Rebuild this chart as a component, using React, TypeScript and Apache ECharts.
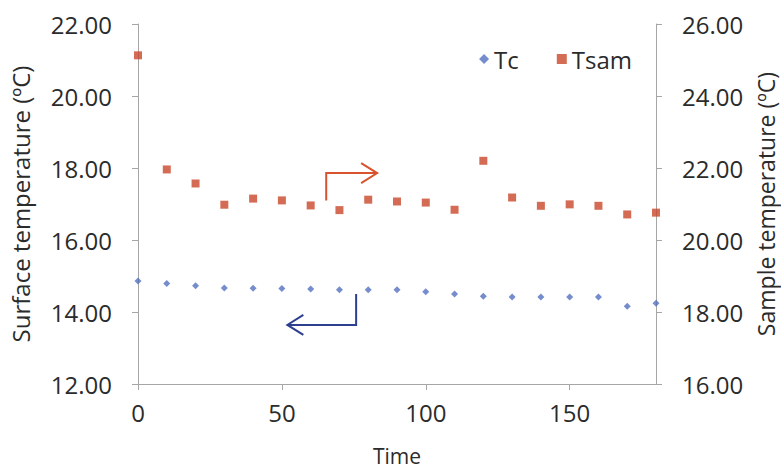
import React, { useEffect, useRef } from "react";
import * as echarts from "echarts";

const times = [0, 10, 20, 30, 40, 50, 60, 70, 80, 90, 100, 110, 120, 130, 140, 150, 160, 170, 180];
const tcValues = [14.86, 14.79, 14.73, 14.67, 14.66, 14.65, 14.64, 14.62, 14.62, 14.62, 14.56, 14.5, 14.44, 14.42, 14.42, 14.42, 14.42, 14.16, 14.24];
const tsamValues = [25.13, 21.96, 21.57, 20.98, 21.15, 21.1, 20.96, 20.83, 21.12, 21.07, 21.04, 20.84, 22.2, 21.18, 20.95, 20.99, 20.95, 20.71, 20.76];

// annotation arrows in data coordinates (x, left-axis value)
const redArrow = [[65.4, 17.1], [65.4, 17.86], [83.1, 17.86]];
const blueArrow = [[75.8, 14.5], [75.8, 13.64], [51.9, 13.64]];

const FONT = "'Open Sans', sans-serif";
const RED = "#C9472B";
const BLUE = "#5470C0";
const AXIS = "#A6A6A6";
const TEXT = "#2b2b2b";

export default function App() {
  const ref = useRef<HTMLDivElement>(null);
  useEffect(() => {
    document.body.style.margin = "0";
    const chart = echarts.init(ref.current!, undefined, { renderer: "svg" });
    const axisCommon = {
      axisLine: { show: true, lineStyle: { color: AXIS, width: 1 } },
      axisTick: { show: true, length: 6, lineStyle: { color: AXIS } },
      splitLine: { show: false },
      axisLabel: { color: TEXT, fontSize: 24, fontFamily: FONT, margin: 26 },
      nameTextStyle: { color: TEXT, fontSize: 24, fontFamily: FONT },
    };
    chart.setOption({
      animation: false,
      textStyle: { fontFamily: FONT },
      grid: { left: 138, right: 125, top: 24, bottom: 85, outerBoundsMode: "none" },
      legend: {
        right: 144,
        top: 42,
        itemWidth: 10,
        itemHeight: 10,
        itemGap: 38,
        textStyle: { color: TEXT, fontSize: 24, fontFamily: FONT },
        data: [
          { name: "Tc", icon: "diamond", itemStyle: { color: BLUE } },
          { name: "Tsam", icon: "rect", itemStyle: { color: RED } },
        ],
      },
      xAxis: {
        type: "value",
        min: 0,
        max: 180,
        interval: 50,
        name: "Time",
        nameLocation: "middle",
        nameGap: 61,
        ...axisCommon,
        axisLabel: { ...axisCommon.axisLabel, margin: 16, showMaxLabel: false },
        nameTextStyle: { ...axisCommon.nameTextStyle, fontSize: 21 },
      },
      yAxis: [
        {
          type: "value",
          min: 12,
          max: 22,
          interval: 2,
          position: "left",
          name: "Surface temperature (ºC)",
          nameLocation: "middle",
          nameGap: 106,
          ...axisCommon,
          axisLabel: { ...axisCommon.axisLabel, formatter: (v: number) => v.toFixed(2) },
        },
        {
          type: "value",
          min: 16,
          max: 26,
          interval: 2,
          position: "right",
          name: "Sample temperature (ºC)",
          nameLocation: "middle",
          nameGap: 95,
          ...axisCommon,
          axisLabel: { ...axisCommon.axisLabel, formatter: (v: number) => v.toFixed(2) },
          nameTextStyle: { ...axisCommon.nameTextStyle, fontSize: 23 },
        },
      ],
      series: [
        {
          name: "Tc",
          type: "scatter",
          yAxisIndex: 0,
          symbol: "diamond",
          symbolSize: 7,
          itemStyle: { color: BLUE },
          data: times.map((t, i) => [t, tcValues[i]]),
        },
        {
          name: "Tsam",
          type: "scatter",
          yAxisIndex: 1,
          symbol: "rect",
          symbolSize: 8,
          itemStyle: { color: RED },
          data: times.map((t, i) => [t, tsamValues[i]]),
        },
      ],
    });

    const toPx = (p: number[]) =>
      chart.convertToPixel({ xAxisIndex: 0, yAxisIndex: 0 } as any, p) as number[];
    const arrow = (pts: number[][], color: string, dir: number) => {
      const px = pts.map(toPx);
      const end = px[px.length - 1];
      const head = [
        [end[0] - dir * 16, end[1] - 10],
        end,
        [end[0] - dir * 16, end[1] + 10],
      ];
      return [
        { type: "polyline", shape: { points: px }, style: { stroke: color, lineWidth: 2, fill: "none" } },
        { type: "polyline", shape: { points: head }, style: { stroke: color, lineWidth: 2, fill: "none" } },
      ];
    };
    chart.setOption({
      graphic: [...arrow(redArrow, "#D9532E", 1), ...arrow(blueArrow, "#2F3F8F", -1)],
    });
    return () => chart.dispose();
  }, []);
  return <div ref={ref} style={{ width: 781, height: 469 }} />;
}
